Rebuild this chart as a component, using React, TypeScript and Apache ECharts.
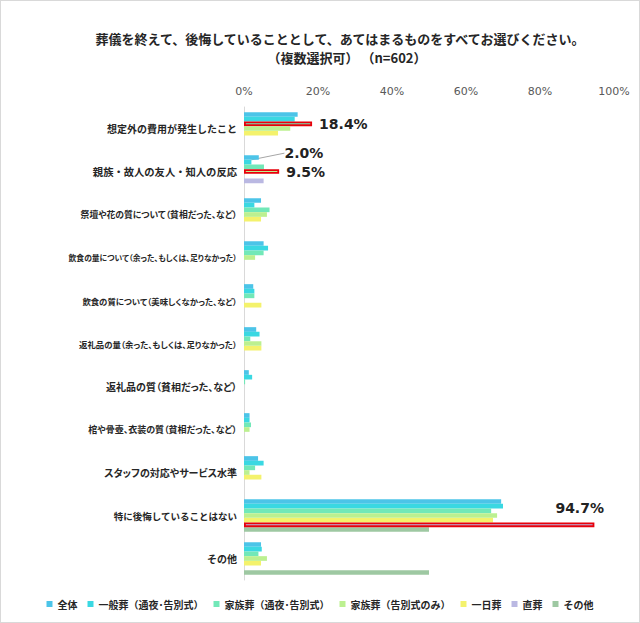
import * as echarts from 'echarts';
import { useEffect, useRef } from 'react';

const categories = [
  '想定外の費用が発生したこと',
  '親族・故人の友人・知人の反応',
  '祭壇や花の質について（貧相だった、など）',
  '飲食の量について（余った、もしくは、足りなかった）',
  '飲食の質について（美味しくなかった、など）',
  '返礼品の量（余った、もしくは、足りなかった）',
  '返礼品の質（貧相だった、など）',
  '棺や骨壺、衣装の質（貧相だった、など）',
  'スタッフの対応やサービス水準',
  '特に後悔していることはない',
  'その他',
];

const seriesNames = [
  '全体',
  '一般葬（通夜･告別式）',
  '家族葬（通夜･告別式）',
  '家族葬（告別式のみ）',
  '一日葬',
  '直葬',
  'その他',
];

const colors = ['#4cc4e8', '#3ad8e2', '#72e8b8', '#bcf090', '#f4f26c', '#bab8e2', '#9ec8a2'];

// values in %
const zentai = [14.5, 4.0, 4.6, 5.3, 2.5, 3.3, 1.3, 1.5, 3.8, 69.5, 4.6];
const ippan = [13.7, 2.0, 2.8, 6.5, 2.8, 4.2, 2.2, 1.5, 5.3, 70.0, 4.8];
const kazokuTsuya = [18.4, 5.4, 6.9, 5.3, 2.8, 1.7, 0.3, 1.9, 3.0, 66.8, 3.9];
const kazokuKokubetsu = [12.5, 9.5, 6.2, 3.0, 0, 4.7, 0, 1.5, 1.5, 68.4, 6.2];
const ichinichi = [9.2, 0, 4.6, 0, 4.7, 4.7, 0, 0, 4.7, 67.3, 4.6];
const chokuso = [0, 5.3, 0, 0, 0, 0, 0, 0, 0, 94.7, 0];
const sonota = [0, 0, 0, 0, 0, 0, 0, 0, 0, 50.0, 50.0];

const xTicks = [0, 20, 40, 60, 80, 100];

// [series, category] of the boxed bars
const boxed = [
  [2, 0],
  [3, 1],
  [5, 9],
];

const labelFont = { fontFamily: 'DejaVu Sans', fontWeight: 'bold' as const, fontSize: 14, color: '#222' };
// "sans-serif" in the family switches on proportional CJK (palt) via the injected css
const fullFont = 'Noto Sans CJK JP';
const paltFont = "'Noto Sans CJK JP', sans-serif";
// per category label: [font size, proportional]
const catLabelFit: [number, boolean][] = [
  [10, false],
  [10.3, false],
  [8.8, true],
  [7.8, true],
  [8.4, true],
  [8.4, true],
  [10, true],
  [9, true],
  [10, true],
  [9.5, false],
  [10, false],
];

export default function App() {
  const chartRef = useRef<HTMLDivElement>(null);

  useEffect(() => {
    document.body.style.margin = '0';
    const st = document.createElement('style');
    st.textContent = 'text[style*="sans-serif"]{font-feature-settings:"palt" 1;}';
    document.head.appendChild(st);
    if (!chartRef.current) return;
    const chart = echarts.init(chartRef.current, null, { renderer: 'svg' });

    const all = [zentai, ippan, kazokuTsuya, kazokuKokubetsu, ichinichi, chokuso, sonota];

    const series = all.map((values, si) => {
      const data = values.map((v, ci) => {
        const isBoxed = boxed.some(([s, c]) => s === si && c === ci);
        const item: any = { value: v };
        if (isBoxed) {
          item.itemStyle = { borderColor: '#e8000b', borderWidth: 1.8 };
          item.label = { show: true, position: 'right', distance: 7, formatter: v.toFixed(1) + '%', ...labelFont };
          if (si === 5) {
            item.label.offset = [-46, -17];
          }
        }
        if (si === 1 && ci === 1) {
          item.label = { show: true, position: 'right', formatter: v.toFixed(1) + '%', ...labelFont };
        }
        return item;
      });
      const s: any = {
        name: seriesNames[si],
        type: 'bar',
        data,
        barGap: '0%',
        barCategoryGap: '24%',
        itemStyle: { color: colors[si] },
        z: boxed.some(([s]) => s === si) ? 3 : 2,
      };
      if (si === 1) {
        s.labelLayout = { dx: 28, dy: -9 };
        s.labelLine = { show: true, lineStyle: { color: '#a6a6a6', width: 1 } };
      }
      return s;
    });

    const rich: any = {};
    catLabelFit.forEach(([size, palt], i) => {
      rich['c' + i] = {
        fontSize: size,
        fontFamily: palt ? paltFont : fullFont,
        fontWeight: 'bold',
        color: '#262626',
      };
    });

    const titleStyle = {
      fontFamily: fullFont,
      fontSize: 13,
      fontWeight: 'bold' as const,
      color: '#262626',
    };

    chart.setOption({
      animation: false,
      title: [
        {
          text: '葬儀を終えて、後悔していることとして、あてはまるものをすべてお選びください。',
          left: 334,
          top: 26,
          textAlign: 'center',
          textStyle: titleStyle,
        },
        {
          text: '（複数選択可） （n=602）',
          left: 341,
          top: 45,
          textAlign: 'center',
          textStyle: titleStyle,
        },
      ],
      legend: {
        bottom: 8,
        left: 'center',
        icon: 'rect',
        itemWidth: 6,
        itemHeight: 6,
        itemGap: 10,
        textStyle: { fontFamily: fullFont, fontSize: 10, fontWeight: 'bold', color: '#262626' },
        data: seriesNames,
      },
      grid: { left: 243, right: 25, top: 106, bottom: 42, outerBoundsMode: 'none' },
      xAxis: {
        type: 'value',
        position: 'top',
        min: 0,
        max: 100,
        interval: 20,
        axisLine: { show: false },
        axisTick: { show: false },
        splitLine: { show: false },
        axisLabel: {
          margin: 10,
          fontFamily: 'DejaVu Sans',
          fontSize: 11,
          color: '#595959',
          formatter: (v: number) => (xTicks.includes(v) ? v + '%' : ''),
        },
      },
      yAxis: {
        type: 'category',
        inverse: true,
        data: categories,
        axisLine: { show: true, lineStyle: { color: '#d9d9d9', width: 1 } },
        axisTick: { show: false },
        axisLabel: {
          margin: 7,
          fontFamily: fullFont,
          fontSize: 10,
          fontWeight: 'bold',
          color: '#262626',
          formatter: (v: string) => {
            const i = categories.indexOf(v);
            return '{c' + i + '|' + v + '}';
          },
          rich,
        },
      },
      series,
    });

    return () => {
      chart.dispose();
      st.remove();
    };
  }, []);

  return (
    <div
      ref={chartRef}
      style={{ width: 640, height: 623, border: '1px solid #d9d9d9', boxSizing: 'border-box' }}
    />
  );
}
